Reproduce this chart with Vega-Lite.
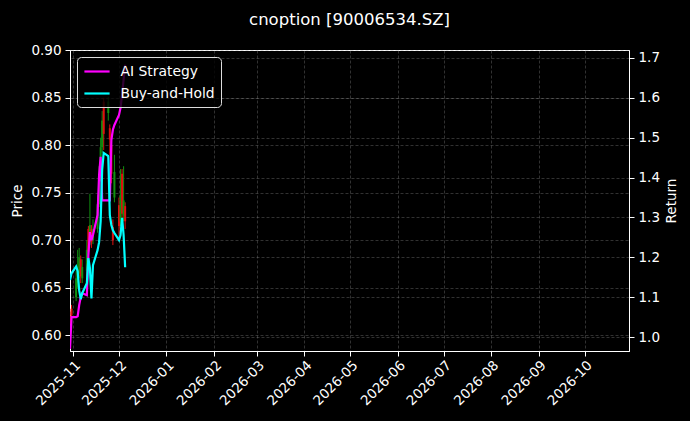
{
  "$schema": "https://vega.github.io/schema/vega-lite/v6.json",
  "background": "#000000",
  "autosize": {"type": "none"},
  "padding": {"left": 70, "top": 50, "right": 61, "bottom": 70},
  "width": 559,
  "height": 301,
  "title": {"text": "cnoption [90006534.SZ]", "color": "#ffffff", "font": "DejaVu Sans", "fontSize": 16.5, "fontWeight": "normal", "anchor": "middle", "offset": 15},
  "config": {
    "view": {"stroke": "#ffffff", "strokeWidth": 1},
    "font": "DejaVu Sans",
    "axis": {
      "labelColor": "#ffffff", "titleColor": "#ffffff", "domainColor": "#ffffff", "tickColor": "#ffffff",
      "labelFont": "DejaVu Sans", "titleFont": "DejaVu Sans", "labelFontSize": 13.5, "titleFontSize": 13.5,
      "titleFontWeight": "normal", "tickSize": 5, "labelPadding": 4,
      "gridColor": "#9a9a9a", "gridOpacity": 0.4, "gridDash": [3, 2], "gridWidth": 0.8
    }
  },
  "datasets": {
    "candles": [
      {"date": "2025-10-30", "open": 0.620, "high": 0.625, "low": 0.605, "close": 0.612, "dir": "down"},
      {"date": "2025-10-31", "open": 0.628, "high": 0.632, "low": 0.618, "close": 0.621, "dir": "down"},
      {"date": "2025-11-03", "open": 0.640, "high": 0.668, "low": 0.636, "close": 0.660, "dir": "up"},
      {"date": "2025-11-04", "open": 0.655, "high": 0.690, "low": 0.650, "close": 0.670, "dir": "up"},
      {"date": "2025-11-05", "open": 0.665, "high": 0.692, "low": 0.660, "close": 0.682, "dir": "up"},
      {"date": "2025-11-06", "open": 0.680, "high": 0.684, "low": 0.655, "close": 0.662, "dir": "down"},
      {"date": "2025-11-07", "open": 0.660, "high": 0.680, "low": 0.655, "close": 0.672, "dir": "up"},
      {"date": "2025-11-10", "open": 0.668, "high": 0.700, "low": 0.662, "close": 0.690, "dir": "up"},
      {"date": "2025-11-11", "open": 0.712, "high": 0.715, "low": 0.684, "close": 0.688, "dir": "down"},
      {"date": "2025-11-12", "open": 0.700, "high": 0.749, "low": 0.695, "close": 0.716, "dir": "up"},
      {"date": "2025-11-13", "open": 0.712, "high": 0.716, "low": 0.692, "close": 0.698, "dir": "down"},
      {"date": "2025-11-14", "open": 0.700, "high": 0.722, "low": 0.696, "close": 0.712, "dir": "up"},
      {"date": "2025-11-17", "open": 0.712, "high": 0.748, "low": 0.708, "close": 0.738, "dir": "up"},
      {"date": "2025-11-18", "open": 0.738, "high": 0.778, "low": 0.735, "close": 0.768, "dir": "up"},
      {"date": "2025-11-19", "open": 0.768, "high": 0.808, "low": 0.762, "close": 0.798, "dir": "up"},
      {"date": "2025-11-20", "open": 0.798, "high": 0.836, "low": 0.792, "close": 0.826, "dir": "up"},
      {"date": "2025-11-21", "open": 0.846, "high": 0.850, "low": 0.795, "close": 0.812, "dir": "down"},
      {"date": "2025-11-24", "open": 0.834, "high": 0.851, "low": 0.826, "close": 0.846, "dir": "up"},
      {"date": "2025-11-25", "open": 0.818, "high": 0.822, "low": 0.790, "close": 0.806, "dir": "down"},
      {"date": "2025-11-26", "open": 0.800, "high": 0.805, "low": 0.760, "close": 0.770, "dir": "down"},
      {"date": "2025-11-27", "open": 0.714, "high": 0.722, "low": 0.695, "close": 0.700, "dir": "down"},
      {"date": "2025-11-28", "open": 0.745, "high": 0.790, "low": 0.740, "close": 0.772, "dir": "up"},
      {"date": "2025-12-01", "open": 0.737, "high": 0.745, "low": 0.702, "close": 0.715, "dir": "down"},
      {"date": "2025-12-02", "open": 0.720, "high": 0.775, "low": 0.715, "close": 0.748, "dir": "up"},
      {"date": "2025-12-03", "open": 0.770, "high": 0.775, "low": 0.724, "close": 0.728, "dir": "down"},
      {"date": "2025-12-04", "open": 0.726, "high": 0.778, "low": 0.720, "close": 0.742, "dir": "up"},
      {"date": "2025-12-05", "open": 0.736, "high": 0.740, "low": 0.712, "close": 0.720, "dir": "down"}
    ],
    "returns": [
      {"date": "2025-10-30", "series": "AI Strategy", "value": 0.970},
      {"date": "2025-10-31", "series": "AI Strategy", "value": 1.050},
      {"date": "2025-11-03", "series": "AI Strategy", "value": 1.050},
      {"date": "2025-11-04", "series": "AI Strategy", "value": 1.052},
      {"date": "2025-11-05", "series": "AI Strategy", "value": 1.080},
      {"date": "2025-11-06", "series": "AI Strategy", "value": 1.100},
      {"date": "2025-11-07", "series": "AI Strategy", "value": 1.110},
      {"date": "2025-11-10", "series": "AI Strategy", "value": 1.105},
      {"date": "2025-11-11", "series": "AI Strategy", "value": 1.205},
      {"date": "2025-11-12", "series": "AI Strategy", "value": 1.263},
      {"date": "2025-11-13", "series": "AI Strategy", "value": 1.243},
      {"date": "2025-11-14", "series": "AI Strategy", "value": 1.256},
      {"date": "2025-11-17", "series": "AI Strategy", "value": 1.306},
      {"date": "2025-11-18", "series": "AI Strategy", "value": 1.407},
      {"date": "2025-11-19", "series": "AI Strategy", "value": 1.452},
      {"date": "2025-11-20", "series": "AI Strategy", "value": 1.343},
      {"date": "2025-11-21", "series": "AI Strategy", "value": 1.343},
      {"date": "2025-11-24", "series": "AI Strategy", "value": 1.343},
      {"date": "2025-11-25", "series": "AI Strategy", "value": 1.343},
      {"date": "2025-11-26", "series": "AI Strategy", "value": 1.494},
      {"date": "2025-11-27", "series": "AI Strategy", "value": 1.520},
      {"date": "2025-11-28", "series": "AI Strategy", "value": 1.532},
      {"date": "2025-12-01", "series": "AI Strategy", "value": 1.557},
      {"date": "2025-12-02", "series": "AI Strategy", "value": 1.575},
      {"date": "2025-12-03", "series": "AI Strategy", "value": 1.608},
      {"date": "2025-12-04", "series": "AI Strategy", "value": 1.646},
      {"date": "2025-12-05", "series": "AI Strategy", "value": 1.683},
      {"date": "2025-10-30", "series": "Buy-and-Hold", "value": 1.143},
      {"date": "2025-10-31", "series": "Buy-and-Hold", "value": 1.160},
      {"date": "2025-11-03", "series": "Buy-and-Hold", "value": 1.177},
      {"date": "2025-11-04", "series": "Buy-and-Hold", "value": 1.165},
      {"date": "2025-11-05", "series": "Buy-and-Hold", "value": 1.117},
      {"date": "2025-11-06", "series": "Buy-and-Hold", "value": 1.095},
      {"date": "2025-11-07", "series": "Buy-and-Hold", "value": 1.110},
      {"date": "2025-11-10", "series": "Buy-and-Hold", "value": 1.135},
      {"date": "2025-11-11", "series": "Buy-and-Hold", "value": 1.198},
      {"date": "2025-11-12", "series": "Buy-and-Hold", "value": 1.173},
      {"date": "2025-11-13", "series": "Buy-and-Hold", "value": 1.097},
      {"date": "2025-11-14", "series": "Buy-and-Hold", "value": 1.180},
      {"date": "2025-11-17", "series": "Buy-and-Hold", "value": 1.218},
      {"date": "2025-11-18", "series": "Buy-and-Hold", "value": 1.238},
      {"date": "2025-11-19", "series": "Buy-and-Hold", "value": 1.290},
      {"date": "2025-11-20", "series": "Buy-and-Hold", "value": 1.420},
      {"date": "2025-11-21", "series": "Buy-and-Hold", "value": 1.462},
      {"date": "2025-11-24", "series": "Buy-and-Hold", "value": 1.454},
      {"date": "2025-11-25", "series": "Buy-and-Hold", "value": 1.306},
      {"date": "2025-11-26", "series": "Buy-and-Hold", "value": 1.281},
      {"date": "2025-11-27", "series": "Buy-and-Hold", "value": 1.268},
      {"date": "2025-11-28", "series": "Buy-and-Hold", "value": 1.261},
      {"date": "2025-12-01", "series": "Buy-and-Hold", "value": 1.243},
      {"date": "2025-12-02", "series": "Buy-and-Hold", "value": 1.256},
      {"date": "2025-12-03", "series": "Buy-and-Hold", "value": 1.299},
      {"date": "2025-12-04", "series": "Buy-and-Hold", "value": 1.256},
      {"date": "2025-12-05", "series": "Buy-and-Hold", "value": 1.175}
    ]
  },
  "encoding": {
    "x": {
      "field": "date", "type": "temporal",
      "scale": {"type": "utc", "domain": [{"year": 2025, "month": 10, "date": 30, "utc": true}, {"year": 2026, "month": 10, "date": 30, "utc": true}]},
      "axis": {"title": null, "format": "%Y-%m", "tickCount": {"interval": "month", "step": 1}, "labelAngle": -45, "labelAlign": "right", "labelBaseline": "top", "labelPadding": 2, "grid": true, "labelOverlap": false, "labelFlush": false}
    }
  },
  "layer": [
    {
      "data": {"name": "candles"},
      "encoding": {
        "color": {"field": "dir", "type": "nominal", "scale": {"domain": ["down", "up"], "range": ["#e01010", "#109010"]}, "legend": null}
      },
      "layer": [
        {
          "mark": {"type": "rule", "strokeWidth": 1, "clip": true},
          "encoding": {
            "y": {"field": "low", "type": "quantitative", "scale": {"domain": [0.5835, 0.9003], "nice": false, "zero": false},
              "axis": {"orient": "left", "title": "Price", "values": [0.6, 0.65, 0.7, 0.75, 0.8, 0.85, 0.9], "format": ".2f", "grid": true, "titlePadding": 6}},
            "y2": {"field": "high"}
          }
        },
        {
          "mark": {"type": "rule", "strokeWidth": 2, "clip": true},
          "encoding": {
            "y": {"field": "open", "type": "quantitative"},
            "y2": {"field": "close"}
          }
        }
      ]
    },
    {
      "data": {"name": "returns"},
      "mark": {"type": "line", "strokeWidth": 2.2, "clip": true},
      "encoding": {
        "y": {"field": "value", "type": "quantitative", "scale": {"domain": [0.965, 1.72], "nice": false, "zero": false},
          "axis": {"orient": "right", "title": "Return", "values": [1.0, 1.1, 1.2, 1.3, 1.4, 1.5, 1.6, 1.7], "format": ".1f", "grid": true, "titlePadding": 5, "titleAngle": 270, "titleBaseline": "top"}},
        "color": {"field": "series", "type": "nominal", "scale": {"domain": ["AI Strategy", "Buy-and-Hold"], "range": ["#ff00ff", "#00ffff"]},
          "legend": {"title": null, "orient": "top-left", "offset": 7, "symbolType": "M-1.8,0H1.8", "symbolSize": 196, "symbolStrokeWidth": 2.2, "symbolOffset": 5.5,
            "labelColor": "#ffffff", "labelFontSize": 13.9, "labelFont": "DejaVu Sans", "fillColor": "rgba(0,0,0,0.8)", "strokeColor": "#dddddd",
            "cornerRadius": 4, "padding": 6, "rowPadding": 6, "labelOffset": 15}}
      }
    }
  ],
  "resolve": {"scale": {"y": "independent", "color": "independent"}, "axis": {"y": "independent"}}
}
